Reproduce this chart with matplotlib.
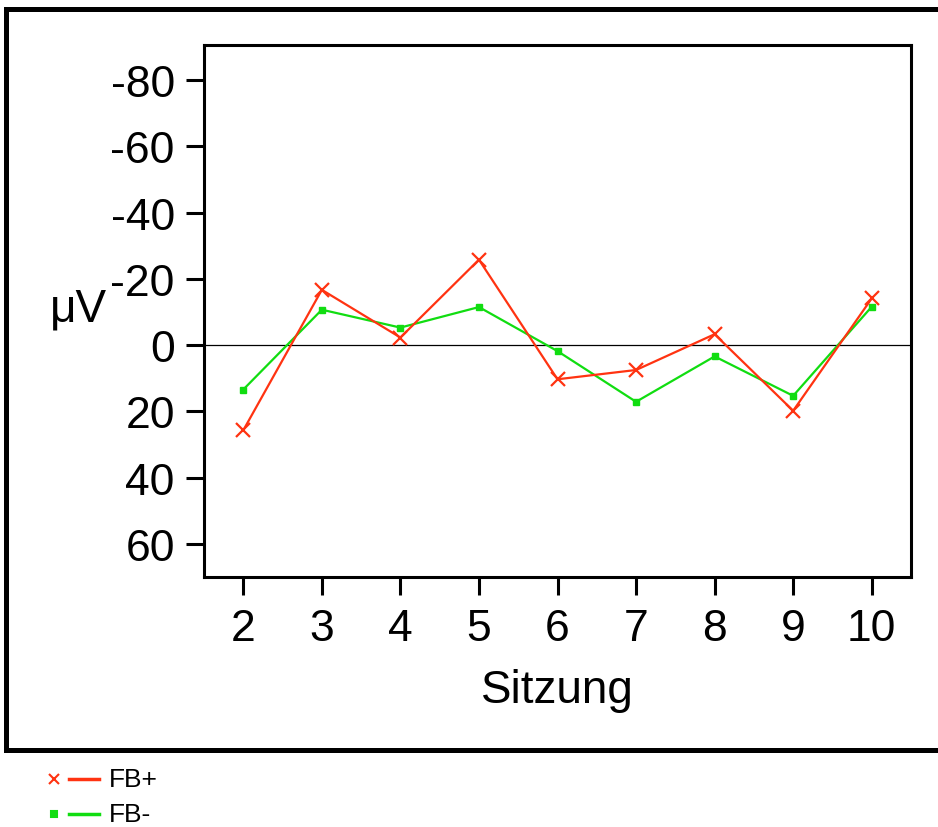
import numpy as np
import matplotlib
matplotlib.use('Agg')
from matplotlib import pyplot as plt
from matplotlib.lines import Line2D

plt.rcParams['font.family'] = ['Liberation Sans', 'DejaVu Sans']

sitzung = [2, 3, 4, 5, 6, 7, 8, 9, 10]
fb_plus = [25.7, -16.7, -2.3, -25.8, 10.3, 7.5, -3.3, 19.8, -14.1]
fb_minus = [13.4, -10.7, -5.3, -11.5, 1.8, 17.1, 3.4, 15.3, -11.6]
y_ticks = [-80, -60, -40, -20, 0, 20, 40, 60]
y_ticklabels = ['-80', '-60', '-40', '-20', '0', '20', '40', '60']

red = '#ff3311'
green = '#11dd11'

fig = plt.figure(figsize=(9.38, 8.28), dpi=100)
ax = fig.add_axes([0.2175, 0.3019, 0.7537, 0.6425])

ax.axhline(0, color='black', lw=0.9, zorder=1)
ax.plot(sitzung, fb_plus, color=red, lw=1.6, marker='x', ms=10, mew=1.6, zorder=3)
ax.plot(sitzung, fb_minus, color=green, lw=1.6, marker='s', ms=5, mfc=green, mec=green, zorder=2)

ax.set_xlim(1.5, 10.5)
ax.set_ylim(70, -90.6)
ax.set_xticks(sitzung)
ax.set_yticks(y_ticks)
ax.set_yticklabels(y_ticklabels)
ax.tick_params(axis='both', direction='out', length=13, width=2.2, labelsize=32)
ax.tick_params(axis='y', pad=8)
ax.tick_params(axis='x', pad=9)
for s in ax.spines.values():
    s.set_linewidth(2.2)

ax.set_xlabel('Sitzung', fontsize=33, labelpad=14)
fig.text(78 / 938, 1 - 310 / 828, 'μV', fontsize=33, ha='center', va='center')

# outer frame (right side runs off the canvas)
fw = 3.6
fig.add_artist(Line2D([6 / 938, 1.0], [1 - 9.5 / 828, 1 - 9.5 / 828], color='black', lw=fw))
fig.add_artist(Line2D([6 / 938, 6 / 938], [1 - 9.5 / 828, 1 - 751 / 828], color='black', lw=fw))
fig.add_artist(Line2D([6 / 938, 1.0], [1 - 751 / 828, 1 - 751 / 828], color='black', lw=fw))

# legend below the frame
for yy, col, mk, ms, lab in [(780, red, 'x', 7, 'FB+'), (815, green, 's', 4, 'FB-')]:
    yf = 1 - yy / 828
    fig.add_artist(Line2D([54 / 938], [yf], marker=mk, ms=ms, color=col, mfc=col, mec=col, mew=1.5, lw=0))
    fig.add_artist(Line2D([69 / 938, 99 / 938], [yf, yf], color=col, lw=2.5))
    fig.text(109 / 938, yf, lab, fontsize=19, ha='left', va='center')

fig.savefig('out.png', dpi=100)
